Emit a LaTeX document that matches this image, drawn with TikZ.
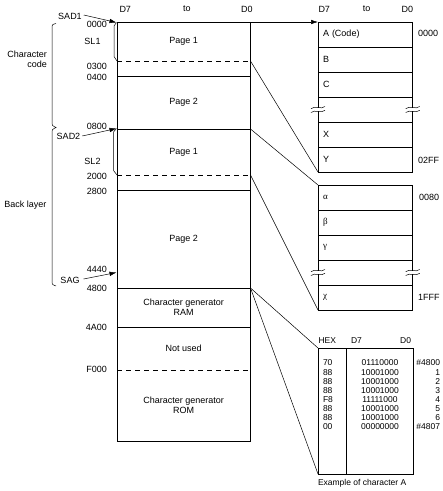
\documentclass[tikz,border=0pt]{standalone}
\usepackage{fontspec}
\setmainfont{Liberation Sans}
\newfontfamily\grk{Liberation Serif}
\usetikzlibrary{arrows.meta}
\begin{document}
\begin{tikzpicture}[x=1pt,y=-1pt,
  every node/.style={font=\fontsize{9}{10}\selectfont, inner sep=0pt, outer sep=0pt},
  small/.style={font=\fontsize{8.5}{10}\selectfont},
  ln/.style={line width=0.8pt},
  thinln/.style={line width=0.5pt},
  dsh/.style={line width=0.8pt, dash pattern=on 5pt off 4pt},
  arr/.style={line width=0.5pt, -{Latex[length=7pt,width=4.5pt]}},
  addr/.style={anchor=east},
  row/.style={draw, line width=0.8pt, minimum width=94.7pt, minimum height=25pt,
    text width=84.7pt, inner xsep=5pt, inner ysep=0pt, align=left, anchor=north west},
  brk/.pic={
    \fill[white] (-1.6,-1.8) rectangle (1.6,1.8);
    \draw[thinln] (-7,-0.8) .. controls (-3,-4.5) and (3,0.5) .. (7,-3);
    \draw[thinln] (-7,3) .. controls (-3,-0.5) and (3,4.5) .. (7,0.8);
  }
]
\useasboundingbox (0,0) rectangle (443,491);

% ---------- memory column ----------
\node[draw, ln, minimum width=133.5pt, minimum height=419pt, anchor=north west] (mem) at (117,22) {};
\foreach \n/\y in {a/61, b/76, c/129, d/175, e/190, f/288, g/327, h/370} {
  \coordinate (L\n) at (117,\y);
  \coordinate (R\n) at (250.5,\y);
}
\draw[dsh] (La) -- (Ra);
\draw[ln] (Lb) -- (Rb);
\draw[ln] (Lc) -- (Rc);
\draw[dsh] (Ld) -- (Rd);
\draw[ln] (Le) -- (Re);
\draw[ln] (Lf) -- (Rf);
\draw[ln] (Lg) -- (Rg);
\draw[dsh] (Lh) -- (Rh);

\node (pg1a) at (183.7,41.5) {Page 1};
\node (pg2a) at (183.7,102) {Page 2};
\node (pg1b) at (183.7,152) {Page 1};
\node (pg2b) at (183.7,239) {Page 2};
\node[align=center] (cgram) at (183.7,307.5) {Character generator\\RAM};
\node (nused) at (183.7,348.5) {Not used};
\node[align=center] (cgrom) at (183.7,405) {Character generator\\ROM};

% headers
\node[anchor=west] (hd7) at (119.5,9) {D7};
\node (hto) at (187,9) {to};
\node (hd0) at (247,9) {D0};

% addresses
\node[addr] (a0000) at (107,24) {0000};
\node[addr] (a0300) at (107,66.5) {0300};
\node[addr] (a0400) at (107,77) {0400};
\node[addr] (a0800) at (107,126.5) {0800};
\node[addr] (a2000) at (107,176) {2000};
\node[addr] (a2800) at (107,191.5) {2800};
\node[addr] (a4440) at (107,269) {4440};
\node[addr] (a4800) at (107,288.5) {4800};
\node[addr] (a4A00) at (107,327) {4A00};
\node[addr] (aF000) at (107,369) {F000};

% SAD / SL
\node (sad1) at (70,16) {SAD1};
\node (sad2) at (68.5,136.5) {SAD2};
\node (sag) at (70,280) {SAG};
\node (sl1) at (92.5,41) {SL1};
\node (sl2) at (92.5,161) {SL2};
\coordinate (t1) at (116.5,22.5);
\coordinate (t2) at (116.5,128.5);
\coordinate (t3) at (116.5,272.5);
\draw[arr] ([xshift=2pt,yshift=1pt]sad1.east) -- (t1);
\draw[arr] ([xshift=2pt,yshift=0.5pt]sad2.east) -- (t2);
\draw[arr] ([xshift=4pt,yshift=1pt]sag.east) -- (t3);
\draw[thinln] (t1) -- (114,26) -- (114,56.5) -- (La);
\draw[thinln] (t2) -- (113.5,132) -- (113.5,170.5) -- (Ld);

% braces
\draw[thinln] (56,23.5) .. controls (52,24.5) .. (52,29) -- (52,121.5)
  .. controls (52,125.5) .. (56,127.5) .. controls (52,129.5) .. (52,133.5)
  -- (52,280.5) .. controls (52,284.5) .. (56,286);
\node[align=right, anchor=east] (ccode) at (47,59) {Character\\code};
\node[anchor=east] (blayer) at (46.5,205) {Back layer};

% ---------- top right box ----------
\node[anchor=west] (rd7) at (318.5,9) {D7};
\node (rto) at (366.7,9) {to};
\node (rd0) at (407.3,9) {D0};
\node[row] (rA) at (318,22) {A\ (Code)};
\node[row] (rB) at (318,47) {B};
\node[row] (rC) at (318,72) {C};
\node[row] (rBr) at (318,97) {};
\node[row] (rX) at (318,122) {X};
\node[row] (rY) at (318,147) {Y};
\pic at (rBr.west) {brk};
\pic at (rBr.east) {brk};
\node[anchor=west] (l0000) at (418,33.5) {0000};
\node[anchor=west] (l02FF) at (418,160) {02FF};

% ---------- second right box ----------
\node[row] (ga) at (318,185) {{\grk α}};
\node[row] (gb) at (318,210) {{\grk β}};
\node[row] (gc) at (318,235) {{\grk γ}};
\node[row] (gbr) at (318,260) {};
\node[row] (gx) at (318,285) {{\grk χ}};
\pic at (gbr.west) {brk};
\pic at (gbr.east) {brk};
\node[anchor=west] (l0080) at (419,197) {0080};
\node[anchor=west] (l1FFF) at (418,297) {1FFF};

% ---------- character example box ----------
\node[draw, ln, minimum width=95pt, minimum height=126pt, anchor=north west] (cbox) at (318,348) {};
\draw[ln] ([xshift=28.7pt]cbox.north west) -- ([xshift=28.7pt]cbox.south west);
\node[small, anchor=west] (chex) at (318.5,340.5) {HEX};
\node[small, anchor=west] (cd7) at (351,340.5) {D7};
\node[small, anchor=east] (cd0) at (411,340.5) {D0};
\foreach \i/\h/\b/\r in {0/70/01110000/\#4800, 1/88/10001000/1, 2/88/10001000/2,
  3/88/10001000/3, 4/F8/11111000/4, 5/88/10001000/5, 6/88/10001000/6, 7/00/00000000/\#4807} {
  \node[small, anchor=west] (hx\i) at (323,363+9.1*\i) {\h};
  \node[small] (bn\i) at (380,363+9.1*\i) {\b};
  \node[small, anchor=east] (ix\i) at (440,363+9.1*\i) {\r};
}
\node[small, anchor=west] (cex) at (318,483.5) {Example of character A};

% ---------- connectors ----------
\draw[arr] (mem.north east) -- (rA.north west);
\draw[thinln] (Ra) -- (rY.south west);
\draw[thinln] (Rc) -- (ga.north west);
\draw[thinln] (Rd) -- (gx.south west);
\draw[thinln] (Rf) -- (cbox.north west);
\draw[thinln] (Rf) -- (cbox.south west);
\end{tikzpicture}
\end{document}
